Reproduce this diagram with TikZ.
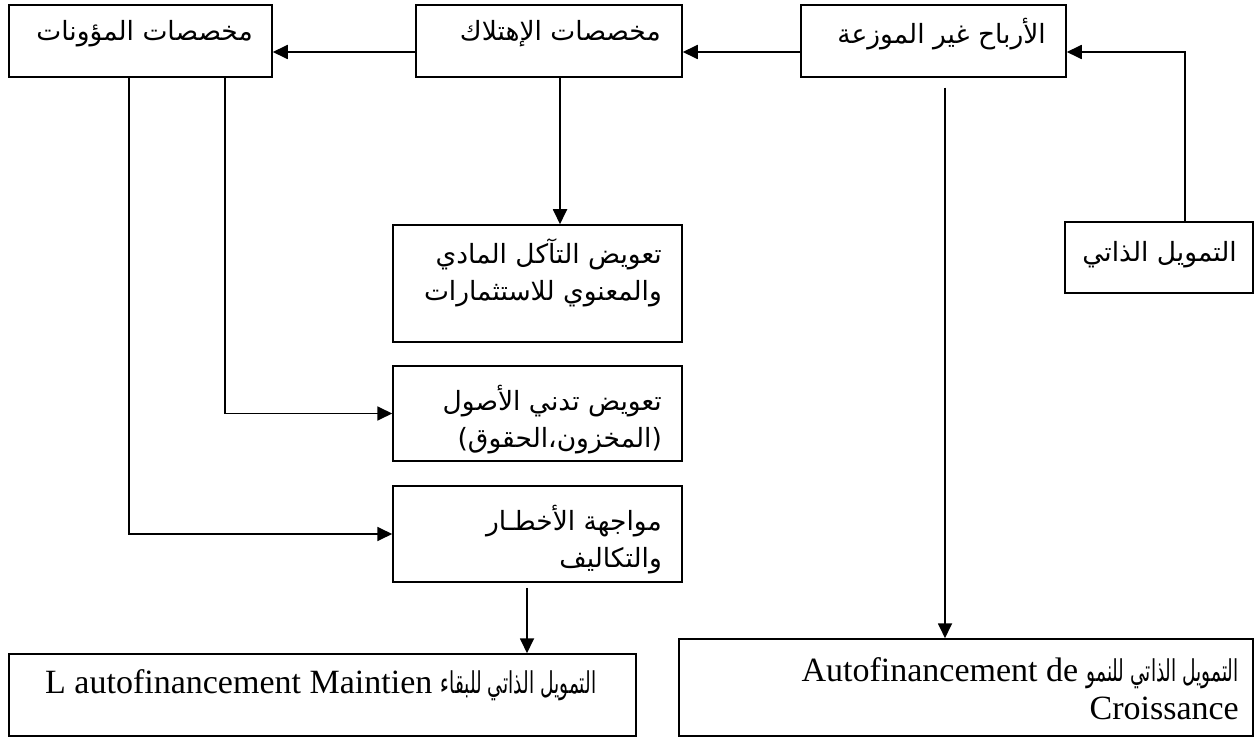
\documentclass[tikz,border=0pt]{standalone}
\usepackage{fontspec}
\setmainfont{Liberation Serif}
\newfontfamily\arabicfont[Script=Arabic]{DejaVu Sans}
\newfontfamily\arabicnarrow[Script=Arabic,FakeStretch=0.62]{DejaVu Sans}
\TeXXeTstate=1
\usetikzlibrary{arrows.meta}

\tikzset{
  box/.style={draw, line width=1.5pt, inner sep=0pt, rectangle},
  conn/.style={line width=1.8pt, -{Triangle[length=15pt,width=14pt]}},
  artxt/.style={font=\arabicfont\fontsize{26.5}{37}\selectfont, inner sep=0pt, align=right},
  frtxt/.style={font=\fontsize{34}{38}\selectfont, inner sep=0pt},
}
\newcommand{\arinline}[1]{{\arabicnarrow\fontsize{30}{38}\selectfont\beginR #1\endR}}

\begin{document}
\begin{tikzpicture}[x=1pt,y=-1pt]
\useasboundingbox (0,0) rectangle (1256,738);

% top row
\node[box, minimum width=263pt, minimum height=72pt] (b1) at (140.5,41) {};
\node[box, minimum width=266pt, minimum height=72pt] (b2) at (549,41) {};
\node[box, minimum width=265pt, minimum height=72pt] (b3) at (933.5,41) {};
% right column
\node[box, minimum width=188pt, minimum height=71pt] (b4) at (1159,257.5) {};
% middle column
\node[box, minimum width=289pt, minimum height=117pt] (b5) at (537.5,283.5) {};
\node[box, minimum width=289pt, minimum height=95pt] (b6) at (537.5,413.5) {};
\node[box, minimum width=289pt, minimum height=96pt] (b7) at (537.5,534) {};
% bottom row
\node[box, minimum width=627pt, minimum height=82pt] (b8) at (322.5,695) {};
\node[box, minimum width=574pt, minimum height=97pt] (b9) at (966,687.5) {};

% labels
\node[artxt, anchor=east] (t1) at (253,34) {\beginR مخصصات المؤونات\endR};
\node[artxt, anchor=east] (t2) at (661,34) {\beginR مخصصات الإهتلاك\endR};
\node[artxt, anchor=east] (t3) at (1046,34) {\beginR الأرباح غير الموزعة\endR};
\node[artxt, anchor=east] (t4) at (1237,255) {\beginR التمويل الذاتي\endR};
\node[artxt, anchor=east] (t5) at (662,273) {\beginR تعويض التآكل المادي\endR\\\beginR والمعنوي للاستثمارات\endR};
\node[artxt, anchor=east] (t6) at (662,420) {\beginR تعويض تدني الأصول\endR\\\beginR (المخزون،الحقوق)\endR};
\node[artxt, anchor=east] (t7) at (662,540) {\beginR مواجهة الأخطـار\endR\\\beginR والتكاليف\endR};
\node[frtxt, anchor=west] (t8) at (45,685) {L autofinancement Maintien \arinline{التمويل الذاتي للبقاء}};
\node[frtxt, anchor=east, align=right] (t9) at (1239,689) {Autofinancement de \arinline{التمويل الذاتي للنمو}\\Croissance};

% connectors
\draw[conn] ([yshift=-11pt]b2.west) -- ([yshift=-11pt]b1.east);
\draw[conn] ([yshift=-11pt]b3.west) -- ([yshift=-11pt]b2.east);
\draw[conn] ([xshift=26pt]b4.north) |- ([yshift=-11pt]b3.east);
\draw[conn] ([xshift=11pt]b2.south) -- ([xshift=11pt]b2.south |- b5.north);
\draw[conn] ([xshift=84.5pt]b1.south) |- (b6.west);
\draw[conn] ([xshift=-11.5pt]b1.south) |- (b7.west);
\coordinate (m7) at ([xshift=-10.5pt,yshift=-5pt]b7.south);
\draw[conn] (m7) -- (m7 |- b8.north);
\coordinate (m3) at ([xshift=11.5pt,yshift=-10pt]b3.south);
\draw[conn] (m3) -- (m3 |- b9.north);
\end{tikzpicture}
\end{document}
